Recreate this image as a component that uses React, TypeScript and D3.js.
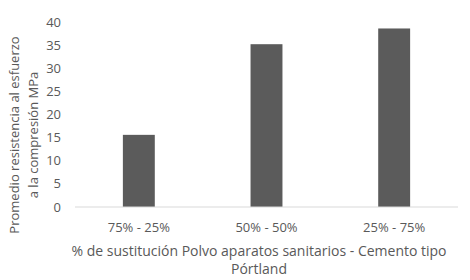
import React from "react";
import * as d3 from "d3";

const categories = ["75% - 25%", "50% - 50%", "25% - 75%"];
const values = [15.6, 35.2, 38.6];
const yTicks = [0, 5, 10, 15, 20, 25, 30, 35, 40];
const yTitle = ["Promedio resistencia al esfuerzo", "a la compresión MPa"];
const xTitle = ["% de sustitución Polvo aparatos sanitarios - Cemento tipo", "Pórtland"];

const W = 470, H = 280;
const left = 75, right = 458, top = 22, bottom = 207;
const font = "'Open Sans', sans-serif";
const textColor = "#595959";

export default function App() {
  const x = d3.scaleBand<string>().domain(categories).range([left, right]).padding(0);
  const y = d3.scaleLinear().domain([0, 40]).range([bottom, top]);
  const bw = x.bandwidth() * 0.25;
  return (
    <svg width={W} height={H} style={{ position: "absolute", left: 0, top: 0, background: "#fff" }}>
      {yTicks.map((t) => (
        <text key={t} x={61} y={y(t)} dy="0.35em" textAnchor="end" fontFamily={font} fontSize={13} fill={textColor}>
          {t}
        </text>
      ))}
      {categories.map((c, i) => (
        <rect key={c} x={(x(c) as number) + x.bandwidth() / 2 - bw / 2} y={y(values[i])} width={bw} height={y(0) - y(values[i])} fill="#5b5b5b" />
      ))}
      <line x1={left} x2={right} y1={y(0)} y2={y(0)} stroke="#d9d9d9" strokeWidth={1} />
      {categories.map((c) => (
        <text key={c} x={(x(c) as number) + x.bandwidth() / 2} y={227} dy="0.35em" textAnchor="middle" fontFamily={font} fontSize={13} fill={textColor}>
          {c}
        </text>
      ))}
      {xTitle.map((t, i) => (
        <text key={t} x={259} y={251 + i * 18} dy="0.35em" textAnchor="middle" fontFamily={font} fontSize={14} fill={textColor}>
          {t}
        </text>
      ))}
      {yTitle.map((t, i) => (
        <text key={t} transform={`translate(${14 + i * 19},135) rotate(-90)`} dy="0.35em" textAnchor="middle" fontFamily={font} fontSize={13} fill={textColor}>
          {t}
        </text>
      ))}
    </svg>
  );
}
